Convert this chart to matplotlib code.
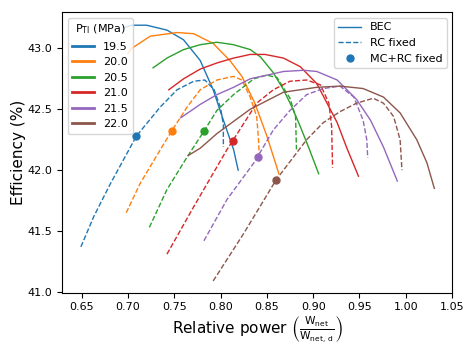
import matplotlib
matplotlib.use("Agg")
import matplotlib.pyplot as plt
from matplotlib.lines import Line2D

pressures = ['19.5', '20.0', '20.5', '21.0', '21.5', '22.0']
colors = ['C0', 'C1', 'C2', 'C3', 'C4', 'C5']

# BEC curves (solid)
bec_x = [
    [0.695, 0.704, 0.720, 0.742, 0.760, 0.778, 0.792, 0.803, 0.814, 0.819],
    [0.700, 0.704, 0.724, 0.753, 0.771, 0.792, 0.810, 0.823, 0.837, 0.850, 0.863],
    [0.727, 0.742, 0.760, 0.778, 0.796, 0.814, 0.832, 0.843, 0.857, 0.868, 0.877, 0.886, 0.895, 0.906],
    [0.744, 0.760, 0.778, 0.796, 0.814, 0.832, 0.848, 0.868, 0.886, 0.904, 0.915, 0.926, 0.936, 0.949],
    [0.757, 0.778, 0.796, 0.814, 0.832, 0.868, 0.890, 0.904, 0.926, 0.947, 0.962, 0.976, 0.991],
    [0.765, 0.778, 0.796, 0.814, 0.832, 0.868, 0.904, 0.929, 0.954, 0.976, 0.994, 1.012, 1.023, 1.031],
]
bec_y = [
    [43.17, 43.19, 43.19, 43.15, 43.07, 42.90, 42.66, 42.41, 42.17, 42.00],
    [42.96, 43.00, 43.10, 43.13, 43.12, 43.04, 42.90, 42.77, 42.55, 42.28, 41.97],
    [42.84, 42.92, 42.99, 43.03, 43.05, 43.03, 42.99, 42.93, 42.80, 42.66, 42.52, 42.36, 42.19, 41.97],
    [42.66, 42.75, 42.83, 42.88, 42.92, 42.95, 42.95, 42.92, 42.85, 42.71, 42.55, 42.39, 42.19, 41.95],
    [42.43, 42.54, 42.62, 42.68, 42.75, 42.81, 42.82, 42.81, 42.74, 42.58, 42.41, 42.19, 41.91],
    [42.12, 42.18, 42.30, 42.40, 42.50, 42.64, 42.68, 42.69, 42.67, 42.60, 42.47, 42.25, 42.06, 41.85],
]

# RC fixed curves (dashed)
rc_x = [
    [0.649, 0.663, 0.681, 0.699, 0.709, 0.735, 0.753, 0.771, 0.783, 0.793, 0.800, 0.803, 0.803],
    [0.698, 0.713, 0.735, 0.747, 0.764, 0.778, 0.796, 0.814, 0.823, 0.832, 0.839, 0.841, 0.842],
    [0.723, 0.742, 0.764, 0.782, 0.796, 0.814, 0.836, 0.850, 0.861, 0.875, 0.881, 0.882],
    [0.742, 0.771, 0.807, 0.813, 0.839, 0.857, 0.875, 0.893, 0.908, 0.917, 0.920, 0.921],
    [0.782, 0.807, 0.836, 0.840, 0.857, 0.875, 0.893, 0.911, 0.929, 0.944, 0.954, 0.958, 0.959],
    [0.792, 0.825, 0.860, 0.893, 0.911, 0.929, 0.947, 0.965, 0.976, 0.987, 0.994, 0.996],
]
rc_y = [
    [41.37, 41.62, 41.89, 42.14, 42.28, 42.52, 42.66, 42.73, 42.74, 42.66, 42.51, 42.37, 42.19],
    [41.65, 41.89, 42.17, 42.32, 42.52, 42.66, 42.74, 42.77, 42.74, 42.60, 42.44, 42.25, 42.07],
    [41.53, 41.84, 42.11, 42.32, 42.49, 42.62, 42.75, 42.78, 42.76, 42.59, 42.44, 42.17],
    [41.31, 41.70, 42.17, 42.24, 42.55, 42.66, 42.73, 42.74, 42.70, 42.55, 42.36, 42.02],
    [41.42, 41.76, 42.06, 42.11, 42.33, 42.49, 42.62, 42.67, 42.69, 42.60, 42.41, 42.25, 42.10],
    [41.09, 41.48, 41.92, 42.25, 42.39, 42.48, 42.55, 42.59, 42.55, 42.44, 42.25, 42.00],
]

# MC+RC fixed points
mc_x = [0.709, 0.747, 0.782, 0.813, 0.840, 0.860]
mc_y = [42.28, 42.32, 42.32, 42.24, 42.11, 41.92]

fig = plt.figure(figsize=(4.74, 3.55), dpi=100)
ax = fig.add_axes([0.131, 0.176, 0.823, 0.789])

for i in range(len(pressures)):
    ax.plot(bec_x[i], bec_y[i], '-', color=colors[i], lw=1.0)
    ax.plot(rc_x[i], rc_y[i], '--', color=colors[i], lw=1.0)
    ax.plot(mc_x[i], mc_y[i], 'o', color=colors[i], ms=5)

ax.set_xlim(0.6287, 1.0503)
ax.set_ylim(40.995, 43.295)
ax.set_xticks([0.65, 0.70, 0.75, 0.80, 0.85, 0.90, 0.95, 1.00, 1.05])
ax.set_yticks([41.0, 41.5, 42.0, 42.5, 43.0])
ax.tick_params(labelsize=8)
ax.set_xlabel(r'Relative power $\left(\frac{\mathrm{W}_{\mathrm{net}}}{\mathrm{W}_{\mathrm{net,\,d}}}\right)$',
              fontsize=11, labelpad=2)
ax.set_ylabel('Efficiency (%)', fontsize=11, labelpad=1)

p_handles = [Line2D([], [], color=colors[i], lw=2) for i in range(len(pressures))]
leg1 = ax.legend(p_handles, pressures, title=r'$\mathrm{P}_{\mathrm{TI}}$ (MPa)', loc='upper left',
                 fontsize=8, title_fontsize=8)
ax.add_artist(leg1)

s_handles = [Line2D([], [], color='C0', lw=1.0),
             Line2D([], [], color='C0', lw=1.0, ls='--'),
             Line2D([], [], color='C0', marker='o', ls='', ms=5)]
ax.legend(s_handles, ['BEC', 'RC fixed', 'MC+RC fixed'], loc='upper right', fontsize=8)

fig.savefig('out.png', dpi=100)
